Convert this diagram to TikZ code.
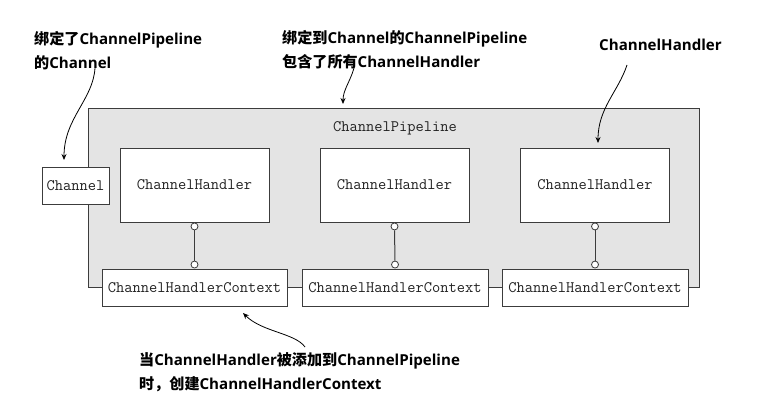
\documentclass[tikz,border=0pt]{standalone}
\usepackage{fontspec}
\setmainfont{Open Sans}
\newfontfamily\cjk{Noto Sans CJK SC}
\usetikzlibrary{arrows.meta}
\definecolor{pipegray}{HTML}{E4E4E4}
\definecolor{edge}{HTML}{3C3C3C}
\definecolor{codetext}{HTML}{222222}
\tikzset{
  box/.style={draw=edge, line width=0.9pt, fill=white, inner sep=0pt,
    font=\ttfamily\fontsize{16}{18}\selectfont, text=codetext},
  pipe/.style={draw=edge, line width=0.9pt, fill=pipegray, inner sep=0pt},
  ring/.style={circle, draw=edge, line width=0.8pt, fill=white, minimum size=7pt, inner sep=0pt},
  link/.style={draw=edge, line width=1pt},
  note/.style={font=\bfseries\fontsize{15.1}{24}\selectfont, align=left, inner sep=0pt, anchor=west},
  pointer/.style={line width=0.8pt, -{Stealth[length=6pt,width=5pt]}}
}
\newcommand{\zh}[1]{{\cjk\bfseries #1}}
\begin{document}
\begin{tikzpicture}[x=1pt,y=-1pt]
\useasboundingbox (0,0) rectangle (775,415);
% pipeline
\node[pipe, minimum width=611pt, minimum height=179pt] (pipe) at (393.5,197.5) {};
\node[font=\ttfamily\fontsize{16}{18}\selectfont, text=codetext] (pipelabel) at (395,128) {ChannelPipeline};
% channel
\node[box, minimum width=67pt, minimum height=37pt] (chan) at (75.5,185.5) {Channel};
% handlers
\node[box, minimum width=149pt, minimum height=74pt] (h1) at (194.5,185) {ChannelHandler};
\node[box, minimum width=149pt, minimum height=74pt] (h2) at (394.5,185) {ChannelHandler};
\node[box, minimum width=149pt, minimum height=74pt] (h3) at (595,185) {ChannelHandler};
% contexts
\node[box, minimum width=185pt, minimum height=37pt] (c1) at (194.5,287.5) {ChannelHandlerContext};
\node[box, minimum width=186pt, minimum height=37pt] (c2) at (395,287.5) {ChannelHandlerContext};
\node[box, minimum width=186pt, minimum height=37pt] (c3) at (595,287.5) {ChannelHandlerContext};
% rings and links
\foreach \i in {1,2,3}{
  \node[ring] (ra\i) at ([yshift=-4pt]h\i.south) {};
  \node[ring] (rb\i) at ([yshift=4pt]c\i.north) {};
  \draw[link] (ra\i) -- (rb\i);
}
% notes
\node[note] (n1) at (34,51) {\zh{绑定了}ChannelPipeline\\\zh{的}Channel};
\node[note] (n2) at (282,50) {\zh{绑定到}Channel\zh{的}ChannelPipeline\\\zh{包含了所有}ChannelHandler};
\node[note] (n3) at (599,45) {ChannelHandler};
\node[note] (n4) at (139,372) {\zh{当}ChannelHandler\zh{被添加到}ChannelPipeline\\\zh{时，创建}ChannelHandlerContext};
% pointers
\coordinate (s1) at (95,68);
\coordinate (e1) at (64,160);
\draw[pointer] (s1) .. controls (93,100) and (64,118) .. (e1);
\coordinate (s2) at (354,68);
\coordinate (e2) at (343,104);
\draw[pointer] (s2) .. controls (350,82) and (343,90) .. (e2);
\coordinate (s3) at (627,65);
\coordinate (e3) at (598,143);
\draw[pointer] (s3) .. controls (618,92) and (598,108) .. (e3);
\coordinate (s4) at (305,347);
\coordinate (e4) at (243,313);
\draw[pointer] (s4) .. controls (295,333) and (262,332) .. (e4);
\end{tikzpicture}
\end{document}
